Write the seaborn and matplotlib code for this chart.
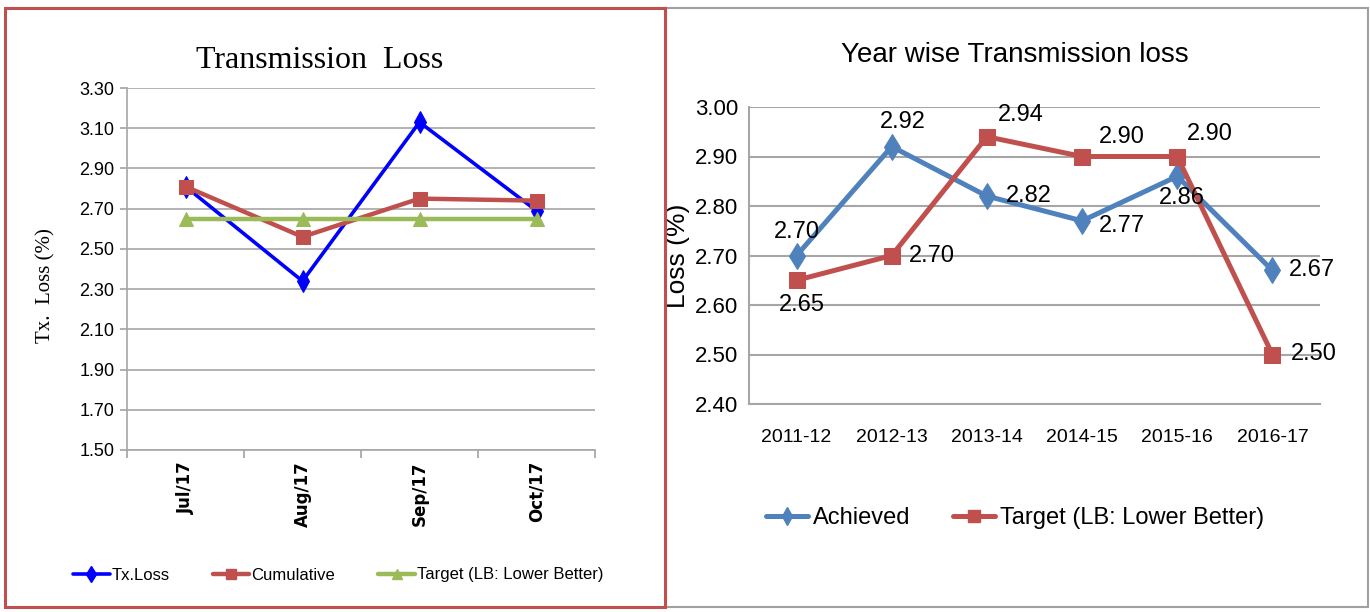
import numpy as np
import pandas as pd
import seaborn as sns
import matplotlib.pyplot as plt
from matplotlib.patches import Rectangle
from matplotlib.lines import Line2D

# Data: monthly
months = ['Jul/17', 'Aug/17', 'Sep/17', 'Oct/17']
tx_loss = [2.81, 2.34, 3.13, 2.69]
cumulative = [2.81, 2.56, 2.75, 2.74]
target_month = [2.65, 2.65, 2.65, 2.65]

# Data: yearly
years = ['2011-12', '2012-13', '2013-14', '2014-15', '2015-16', '2016-17']
achieved = [2.70, 2.92, 2.82, 2.77, 2.86, 2.67]
target_year = [2.65, 2.70, 2.94, 2.90, 2.90, 2.50]

sns.set_theme(style='white')
SANS = ['Liberation Sans Narrow', 'Liberation Sans', 'DejaVu Sans']
SERIF = ['Liberation Serif', 'DejaVu Serif']
plt.rcParams['font.family'] = SANS
plt.rcParams['text.color'] = 'black'
plt.rcParams['axes.labelcolor'] = 'black'
plt.rcParams['xtick.labelcolor'] = 'black'
plt.rcParams['ytick.labelcolor'] = 'black'

BLUE = '#0000FF'
RED = '#C0504D'
GREEN = '#9BBB59'
XBLUE = '#4F81BD'
GRID = '#A6A6A6'

fig = plt.figure(figsize=(13.7, 6.12), dpi=100)
W, H = 1370, 612


def axrect(x0, x1, y0, y1):
    return [x0 / W, 1 - y1 / H, (x1 - x0) / W, (y1 - y0) / H]


# ---------------- left chart ----------------
ax1 = fig.add_axes(axrect(127, 595, 88, 450))
df_m = pd.DataFrame({'pos': np.arange(len(months)), 'tx': tx_loss,
                     'cum': cumulative, 'tgt': target_month})
sns.lineplot(data=df_m, x='pos', y='tx', ax=ax1, color=BLUE, lw=2.6,
             marker='d', markersize=11, markeredgecolor=BLUE)
sns.lineplot(data=df_m, x='pos', y='cum', ax=ax1, color=RED, lw=3.2,
             marker='s', markersize=10, markeredgecolor=RED)
sns.lineplot(data=df_m, x='pos', y='tgt', ax=ax1, color=GREEN, lw=3.2,
             marker='^', markersize=10, markeredgecolor=GREEN)

ax1.set_xlim(-0.5, len(months) - 0.5)
ax1.set_ylim(1.5, 3.3)
yt1 = np.arange(1.5, 3.31, 0.2)
ax1.set_yticks(yt1)
ax1.set_yticklabels([f'{v:.2f}' for v in yt1], fontsize=13)
ax1.set_xticks(np.arange(-0.5, len(months), 1.0))
ax1.set_xticklabels([])
ax1.set_xticks(np.arange(len(months)), minor=True)
ax1.set_xticklabels(months, minor=True, rotation=90, fontsize=12,
                    fontweight='bold', family=['DejaVu Sans'], va='top')
ax1.tick_params(axis='x', which='major', length=6, color=GRID, direction='out', bottom=True)
ax1.tick_params(axis='x', which='minor', length=0, pad=8)
ax1.tick_params(axis='y', length=5, color=GRID, direction='out', left=True, pad=4)
ax1.grid(axis='y', color=GRID, lw=1.2)
ax1.grid(axis='x', visible=False)
for s in ['top', 'right']:
    ax1.spines[s].set_visible(False)
for s in ['left', 'bottom']:
    ax1.spines[s].set_color(GRID)
    ax1.spines[s].set_linewidth(1.2)
ax1.set_xlabel('')
ax1.set_ylabel('Tx.  Loss (%)', family=SERIF, fontsize=15)
ax1.yaxis.set_label_coords((55 - 127) / 468, 0.455)

fig.text(320 / W, 1 - 60 / H, 'Transmission  Loss', family=SERIF, fontsize=23,
         ha='center', va='center')

h1 = [Line2D([], [], color=BLUE, lw=2.6, marker='d', markersize=8),
      Line2D([], [], color=RED, lw=3.2, marker='s', markersize=7),
      Line2D([], [], color=GREEN, lw=3.2, marker='^', markersize=7)]
fig.legend(h1, ['Tx.Loss', 'Cumulative', 'Target (LB: Lower Better)'],
           loc='center', bbox_to_anchor=(338 / W, 1 - 575 / H), ncol=3,
           frameon=False, fontsize=12, handlelength=2.2, handletextpad=0.1,
           columnspacing=2.6)

# ---------------- right chart ----------------
ax2 = fig.add_axes(axrect(749, 1320, 107, 404))
df_y = pd.DataFrame({'pos': np.arange(len(years)), 'ach': achieved, 'tgt': target_year})
sns.lineplot(data=df_y, x='pos', y='ach', ax=ax2, color=XBLUE, lw=3.6,
             marker='d', markersize=13, markeredgecolor=XBLUE)
sns.lineplot(data=df_y, x='pos', y='tgt', ax=ax2, color=RED, lw=3.6,
             marker='s', markersize=12, markeredgecolor=RED)

ax2.set_xlim(-0.5, len(years) - 0.5)
ax2.set_ylim(2.4, 3.0)
yt = np.arange(2.4, 3.001, 0.1)
ax2.set_yticks(yt)
ax2.set_yticklabels([f'{v:.2f}' for v in yt], fontsize=16)
ax2.set_xticks(np.arange(len(years)))
ax2.set_xticklabels(years, fontsize=14)
ax2.tick_params(axis='x', length=0, pad=18)
ax2.tick_params(axis='y', length=0, pad=8)
ax2.grid(axis='y', color=GRID, lw=1.5)
ax2.grid(axis='x', visible=False)
for s in ['top', 'right']:
    ax2.spines[s].set_visible(False)
for s in ['left', 'bottom']:
    ax2.spines[s].set_color(GRID)
    ax2.spines[s].set_linewidth(1.5)
ax2.set_xlabel('')
ax2.set_ylabel('Loss (%)', family=['Liberation Sans', 'DejaVu Sans'], fontsize=19)
ax2.yaxis.set_label_coords((690 - 749) / 571, 0.50)

# data labels (offsets in points, ha, va)
ach_off = [((0, 9), 'center', 'bottom'), ((8, 10), 'center', 'bottom'),
           ((14, 0), 'left', 'center'), ((12, -4), 'left', 'center'),
           ((3, -8), 'center', 'top'), ((12, 0), 'left', 'center')]
tgt_off = [((4, -10), 'center', 'top'), ((12, 0), 'left', 'center'),
           ((8, 8), 'left', 'bottom'), ((12, 6), 'left', 'bottom'),
           ((7, 8), 'left', 'bottom'), ((13, 0), 'left', 'center')]
for i, v in enumerate(achieved):
    (dx, dy), ha, va = ach_off[i]
    ax2.annotate(f'{v:.2f}', (i, v), xytext=(dx, dy), textcoords='offset points',
                 ha=ha, va=va, fontsize=17)
for i, v in enumerate(target_year):
    (dx, dy), ha, va = tgt_off[i]
    ax2.annotate(f'{v:.2f}', (i, v), xytext=(dx, dy), textcoords='offset points',
                 ha=ha, va=va, fontsize=17)

fig.text(1015 / W, 1 - 55 / H, 'Year wise Transmission loss', fontsize=20,
         ha='center', va='center')

h2 = [Line2D([], [], color=XBLUE, lw=3.6, marker='d', markersize=9),
      Line2D([], [], color=RED, lw=3.6, marker='s', markersize=9)]
fig.legend(h2, ['Achieved', 'Target (LB: Lower Better)'],
           loc='center', bbox_to_anchor=(1015 / W, 1 - 518 / H), ncol=2,
           frameon=False, fontsize=17, handlelength=1.8, handletextpad=0.2,
           columnspacing=1.8)

# panel borders
fig.patches.append(Rectangle((666 / W, 1 - 607 / H), (1368 - 666) / W, (607 - 8) / H,
                             transform=fig.transFigure, fill=False,
                             edgecolor='#A0A0A0', lw=1.5))
fig.patches.append(Rectangle((5 / W, 1 - 607 / H), (665 - 5) / W, (607 - 8) / H,
                             transform=fig.transFigure, fill=False,
                             edgecolor=RED, lw=2.2))

fig.savefig('out.png', dpi=100)
